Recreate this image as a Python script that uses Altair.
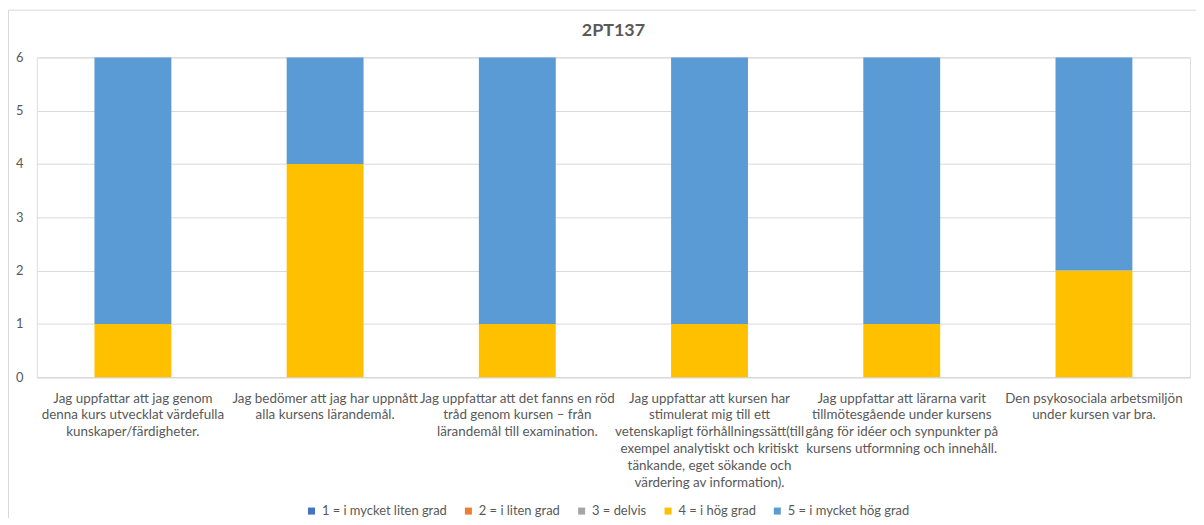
import altair as alt
import pandas as pd

title_text = "2PT137"

label_lines = [
    ["Jag uppfattar att jag genom", "denna kurs utvecklat värdefulla", "kunskaper/färdigheter."],
    ["Jag bedömer att jag har uppnått", "alla kursens lärandemål."],
    ["Jag uppfattar att det fanns en röd", "tråd genom kursen – från", "lärandemål till examination."],
    ["Jag uppfattar att kursen har", "stimulerat mig till ett", "vetenskapligt förhållningssätt(till",
     "exempel analytiskt och kritiskt", "tänkande, eget sökande och", "värdering av information)."],
    ["Jag uppfattar att lärarna varit", "tillmötesgående under kursens", "gång för idéer och synpunkter på",
     "kursens utformning och innehåll."],
    ["Den psykosociala arbetsmiljön", "under kursen var bra."],
]
categories = ["|".join(l) for l in label_lines]

ratings = ["1 = i mycket liten grad", "2 = i liten grad", "3 = delvis",
           "4 = i hög grad", "5 = i mycket hög grad"]
rating_colors = ["#4472C4", "#ED7D31", "#A5A5A5", "#FFC000", "#5B9BD5"]

count_1 = [0, 0, 0, 0, 0, 0]
count_2 = [0, 0, 0, 0, 0, 0]
count_3 = [0, 0, 0, 0, 0, 0]
count_4 = [1, 4, 1, 1, 1, 2]
count_5 = [5, 2, 5, 5, 5, 4]

y_ticks = [0, 1, 2, 3, 4, 5, 6]

all_counts = [count_1, count_2, count_3, count_4, count_5]
rows = []
for ri, (r, cnts) in enumerate(zip(ratings, all_counts)):
    for c, v in zip(categories, cnts):
        if v > 0:
            rows.append({"category": c, "rating": r, "idx": ri, "count": v})
df = pd.DataFrame(rows)

FONT = "Lato"
TXT = "#595959"
GRID = "#D9D9D9"

W, H = 1161, 322
PL, PT, PR, PB = 29, 48, 6, 140

bars = alt.Chart(df).mark_bar().encode(
    x=alt.X("category:N", sort=categories, title=None,
            scale=alt.Scale(paddingInner=0.6, paddingOuter=0.3),
            axis=alt.Axis(labelExpr="split(datum.label, '|')", labelAngle=0,
                          labelLineHeight=17, labelBaseline="top", labelPadding=14,
                          labelFontSize=13.5, labelFont=FONT, labelColor=TXT,
                          labelLimit=250, ticks=False, domainColor=GRID, grid=False)),
    y=alt.Y("count:Q", title=None, stack="zero",
            scale=alt.Scale(domain=[0, 6], nice=False),
            axis=alt.Axis(values=y_ticks, format="d", ticks=False, domain=False,
                          gridColor=GRID, labelPadding=14, labelFontSize=13,
                          labelFont=FONT, labelColor=TXT)),
    color=alt.Color("rating:N",
                    scale=alt.Scale(domain=ratings, range=rating_colors),
                    legend=alt.Legend(title=None, orient="none", direction="horizontal",
                                      legendX=270, legendY=H + 128, symbolType="square",
                                      symbolSize=50, symbolStrokeWidth=0,
                                      labelFontSize=13, labelFont=FONT, labelColor=TXT,
                                      columnPadding=15, labelOffset=4)),
    order=alt.Order("idx:Q", sort="ascending"),
)

border = alt.Chart(alt.Data(values=[{}])).mark_rect(
    fill=None, stroke=GRID, strokeWidth=1
).encode(
    x=alt.value(-PL + 0.5), x2=alt.value(W + PR + 10),
    y=alt.value(-PT + 0.5), y2=alt.value(H + PB + 10),
)

title = alt.Chart(alt.Data(values=[{"t": title_text}])).mark_text(
    font=FONT, fontSize=18, fontWeight="bold", color=TXT, align="center", baseline="middle"
).encode(
    text="t:N", x=alt.value(W / 2), y=alt.value(-27),
)

chart = alt.layer(border, bars, title).properties(
    width=W, height=H,
    autosize=alt.AutoSizeParams(type="none"),
    padding={"left": PL, "top": PT, "right": PR, "bottom": PB},
).configure_view(stroke=None).configure(background="white")

chart.save("out.html", embed_options={"renderer": "svg", "actions": False})
